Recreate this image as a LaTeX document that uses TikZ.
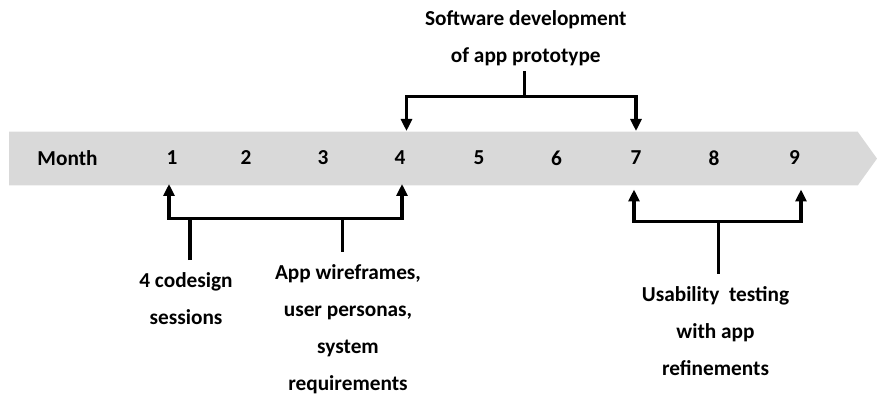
\documentclass[tikz,border=0pt]{standalone}
\usepackage{fontspec}
\setmainfont{Carlito}
\usetikzlibrary{arrows.meta}
\definecolor{bandgray}{HTML}{D9D9D9}
\tikzset{
    lbl/.style={font=\fontsize{21.3}{37}\selectfont\bfseries, align=center, inner sep=0pt},
    stem/.style={line width=3.3pt},
    brk/.style={line width=3.3pt, {Triangle[width=11pt,length=12pt]}-{Triangle[width=11pt,length=12pt]}}
}
\begin{document}
\begin{tikzpicture}[x=1pt,y=-1pt]
    \useasboundingbox (0,0) rectangle (877,395);

    % Month band
    \fill[bandgray] (9,131.7) -- (857.7,131.7) -- (877,158.6) -- (857.7,185.5) -- (9,185.5) -- cycle;
    \node[lbl] (month) at (67.5,158) {Month};
    \foreach \m/\x in {1/172,2/246,3/323,4/400,5/479,6/556.5,7/636,8/714,9/794.5} {
        \node[lbl] (m\m) at (\x,158) {\m};
    }

    % Arrow tips and bar joints
    \coordinate (tipa) at (406.5,131);
    \coordinate (tipb) at (636,131);
    \coordinate (tipc) at (169,184);
    \coordinate (tipd) at (402,184);
    \coordinate (tipe) at (634,189.5);
    \coordinate (tipf) at (801,189.5);
    \coordinate (devj) at (524.3,96.7);
    \coordinate (codj) at (190,218.3);
    \coordinate (appj) at (342.3,218.3);
    \coordinate (usej) at (718.3,221.7);

    % Software development
    \node[lbl] (dev) at (525.8,38.5) {Software development\\of app prototype};
    \draw[stem, shorten <=5pt] (dev.south -| devj) -- (devj);
    \draw[brk] (tipa) |- (devj) -| (tipb);

    % Codesign and wireframes
    \node[lbl] (cod) at (186,298.4) {4 codesign\\sessions};
    \node[lbl] (app) at (348,328.8) {App wireframes,\\user personas,\\system\\requirements};
    \draw[stem, shorten <=12pt] (cod.north -| codj) -- (codj);
    \draw[stem, shorten <=12pt] (app.north -| appj) -- (appj);
    \draw[brk] (tipc) |- (codj) -| (tipd);

    % Usability testing
    \node[lbl] (use) at (715.5,330.7) {Usability~~testing\\with app\\refinements};
    \draw[stem, shorten <=12pt] (use.north -| usej) -- (usej);
    \draw[brk] (tipe) |- (usej) -| (tipf);
\end{tikzpicture}
\end{document}
